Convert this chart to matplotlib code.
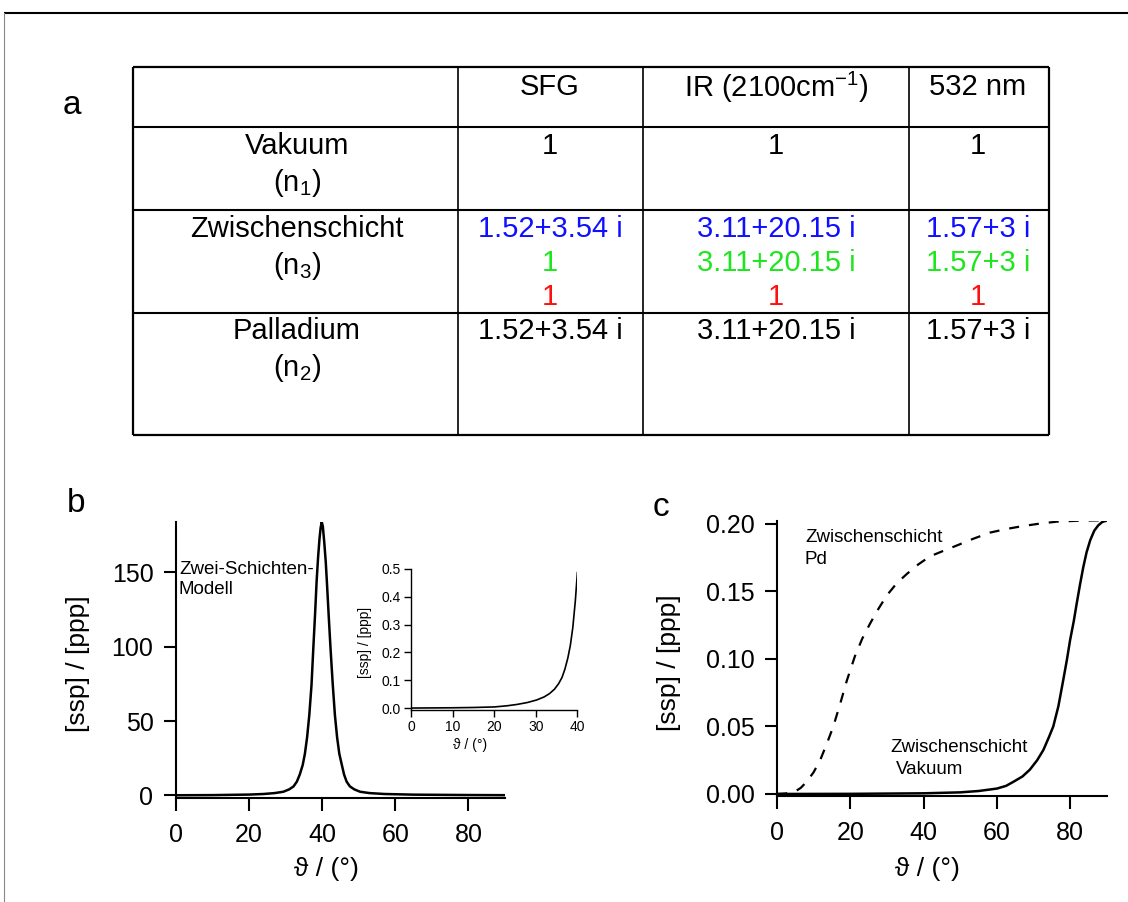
import matplotlib
matplotlib.use("Agg")
import matplotlib.pyplot as plt

plt.rcParams['font.family'] = ['Liberation Sans', 'DejaVu Sans']
plt.rcParams['mathtext.fontset'] = 'custom'
plt.rcParams['mathtext.rm'] = 'Liberation Sans'
plt.rcParams['mathtext.it'] = 'Liberation Sans:italic'
plt.rcParams['mathtext.bf'] = 'Liberation Sans:bold'

# ---------------- data ----------------
col_headers = ["SFG", "IR (2100cm$^{-1}$)", "532 nm"]
row_names = ["Vakuum", "Zwischenschicht", "Palladium"]
row_symbols = ["(n$_1$)", "(n$_3$)", "(n$_2$)"]
vakuum_values = ["1", "1", "1"]
zw_blue_values = ["1.52+3.54 i", "3.11+20.15 i", "1.57+3 i"]
zw_green_values = ["1", "3.11+20.15 i", "1.57+3 i"]
zw_red_values = ["1", "1", "1"]
palladium_values = ["1.52+3.54 i", "3.11+20.15 i", "1.57+3 i"]

# panel b: main curve (two-layer model)
b_theta = [0, 10, 20, 24, 27, 29.4, 31, 32.2, 33.1, 33.9, 34.7, 35.3, 35.9, 36.5,
           37.1, 37.6, 38.1, 38.5, 38.9, 39.3, 39.6, 39.9, 40.2, 40.6, 41.0, 41.3,
           41.8, 42.3, 42.9, 43.5, 44.1, 44.7, 45.4, 46.0, 46.7, 47.6, 48.8, 50.4,
           53, 57, 65, 80, 90]
b_ratio = [0.05, 0.15, 0.5, 0.9, 1.5, 2.4, 4.0, 6.0, 9.2, 14, 20.4, 28, 39, 54,
           74, 99, 123, 144, 160, 173, 180, 184, 181, 170, 157, 144,
           121, 99, 75, 54, 39, 28, 20.4, 14, 9.2, 6.0, 4.0, 2.4,
           1.5, 0.9, 0.45, 0.2, 0.1]
b_xticks = [0, 20, 40, 60, 80]
b_yticks = [0, 50, 100, 150]

# panel b inset
inset_theta = [0, 10, 15, 20, 23, 25.5, 28, 30.2, 32, 33.3, 34.5, 35.5, 36.3,
               37.0, 37.7, 38.3, 38.9, 39.5, 40.0]
inset_ratio = [0.0, 0.001, 0.002, 0.004, 0.008, 0.013, 0.020, 0.029, 0.040, 0.052,
               0.068, 0.088, 0.110, 0.140, 0.180, 0.225, 0.29, 0.385, 0.487]
inset_xticks = [0, 10, 20, 30, 40]
inset_yticks = [0.0, 0.1, 0.2, 0.3, 0.4, 0.5]

# panel c
pd_theta = [0, 2, 3.5, 4.8, 6.4, 8.0, 9.9, 11.7, 13.5, 15.3, 17.2, 19.0, 21.2,
            23.2, 25.3, 27.6, 29.9, 32.6, 35.4, 38.5, 41.7, 45.3, 49.0, 53.5,
            58.1, 62.6, 67.2, 71.8, 76.3, 83, 90]
pd_ratio = [0.0, 0.0003, 0.0009, 0.0017, 0.0045, 0.009, 0.016, 0.025, 0.037,
            0.050, 0.067, 0.084, 0.102, 0.115, 0.126, 0.137, 0.147, 0.156,
            0.163, 0.170, 0.176, 0.180, 0.184, 0.189, 0.1936, 0.1963, 0.1985,
            0.2003, 0.2017, 0.2025, 0.2027]
vac_theta = [0, 20, 40, 50, 55, 60, 62.5, 64.5, 67, 69, 71, 72.7, 74.2, 75.4,
             76.8, 78.1, 79.1, 80.0, 81.0, 81.8, 82.7, 83.6, 84.5, 85.5, 86.6,
             87.7, 88.8, 90]
vac_ratio = [0.0, 0.0001, 0.0005, 0.0012, 0.0022, 0.004, 0.006, 0.009, 0.013,
             0.018, 0.025, 0.0326, 0.042, 0.050, 0.065, 0.084, 0.099, 0.114,
             0.128, 0.141, 0.155, 0.168, 0.179, 0.188, 0.195, 0.199, 0.2015,
             0.2025]
c_xticks = [0, 20, 40, 60, 80]
c_yticks = [0.00, 0.05, 0.10, 0.15, 0.20]

# ---------------- figure ----------------
W, H = 1128, 902
fig = plt.figure(figsize=(W / 100, H / 100), dpi=100)
bg = fig.add_axes([0, 0, 1, 1], zorder=0)
bg.set_xlim(0, W)
bg.set_ylim(H, 0)
bg.axis('off')

# outer frame (top and left only)
bg.plot([4, W], [13, 13], color='black', lw=1.5, solid_capstyle='butt')
bg.plot([4, 4], [13, H], color='#888888', lw=0.8)

# ---------------- table (panel a) ----------------
tab_x = [133, 458, 643, 909, 1049]
tab_y = [67, 127, 210, 313, 435]
bg.hlines(tab_y[1:-1], tab_x[0], tab_x[-1], color='black', lw=1.5)
bg.vlines(tab_x[1:-1], tab_y[0], tab_y[-1], color='black', lw=1.2)
bg.hlines([tab_y[0], tab_y[-1]], tab_x[0], tab_x[-1], color='black', lw=1.6)
bg.vlines([tab_x[0], tab_x[-1]], tab_y[0], tab_y[-1], color='black', lw=1.6)

tfs = 21
col_cx = [550, 776, 978]
label_cx = 297
for cx, h in zip(col_cx, col_headers):
    bg.text(cx, 87, h, ha='center', va='center', fontsize=tfs)

name_y = [146, 229, 331]
sym_y = [183, 266, 368]
for n, s, ny, sy in zip(row_names, row_symbols, name_y, sym_y):
    bg.text(label_cx, ny, n, ha='center', va='center', fontsize=tfs)
    bg.text(label_cx, sy, s, ha='center', va='center', fontsize=tfs)

for cx, v in zip(col_cx, vakuum_values):
    bg.text(cx, 146, v, ha='center', va='center', fontsize=tfs)
for cx, v in zip(col_cx, zw_blue_values):
    bg.text(cx, 229, v, ha='center', va='center', fontsize=tfs, color='#1010ff')
for cx, v in zip(col_cx, zw_green_values):
    bg.text(cx, 263, v, ha='center', va='center', fontsize=tfs, color='#1ee61e')
for cx, v in zip(col_cx, zw_red_values):
    bg.text(cx, 297, v, ha='center', va='center', fontsize=tfs, color='#ff1010')
for cx, v in zip(col_cx, palladium_values):
    bg.text(cx, 331, v, ha='center', va='center', fontsize=tfs)

# panel letters
bg.text(72, 106, "a", ha='center', va='center', fontsize=24)
bg.text(76, 503, "b", ha='center', va='center', fontsize=24)
bg.text(661, 507, "c", ha='center', va='center', fontsize=24)


def style_axes(ax, lw, ticklen, labelsize, pad):
    for side in ('top', 'right'):
        ax.spines[side].set_visible(False)
    for side in ('left', 'bottom'):
        ax.spines[side].set_linewidth(lw)
    ax.tick_params(direction='out', length=ticklen, width=lw,
                   labelsize=labelsize, pad=pad)
    ax.patch.set_alpha(0)


# ---------------- panel b ----------------
axb = fig.add_axes([175.7 / W, (H - 798.3) / H, 329.4 / W, 276.4 / H], zorder=2)
axb.plot(b_theta, b_ratio, color='black', lw=1.8, solid_joinstyle='round')
axb.set_xlim(0, 90)
axb.set_ylim(-2, 184)
axb.set_xticks(b_xticks)
axb.set_yticks(b_yticks)
style_axes(axb, 1.5, 9, 18, 7)
axb.tick_params(axis='x', pad=9)

bg.text(78, 664, "[ssp] / [ppp]", rotation=90, ha='center', va='center', fontsize=19)
bg.text(326, 869, "ϑ / (°)", ha='center', va='center', fontsize=19)
bg.text(179, 569, "Zwei-Schichten-", ha='left', va='center', fontsize=13.5)
bg.text(179, 590, "Modell", ha='left', va='center', fontsize=13.5)

# inset
axi = fig.add_axes([411 / W, (H - 710) / H, 166.4 / W, 141 / H], zorder=3)
axi.plot(inset_theta, inset_ratio, color='black', lw=1.2)
axi.set_xlim(0, 40)
axi.set_ylim(-0.007, 0.5)
axi.set_xticks(inset_xticks)
axi.set_yticks(inset_yticks)
axi.set_yticklabels([f"{v:.1f}" for v in inset_yticks])
style_axes(axi, 1.0, 5, 10, 2.5)
bg.text(365, 642, "[ssp] / [ppp]", rotation=90, ha='center', va='center', fontsize=10)
bg.text(470, 745, "ϑ / (°)", ha='center', va='center', fontsize=10)

# ---------------- panel c ----------------
axc = fig.add_axes([777.3 / W, (H - 796) / H, 329.4 / W, 275.4 / H], zorder=2)
axc.plot(pd_theta, pd_ratio, color='black', lw=1.6, linestyle=(0, (4.5, 4.5)))
axc.plot(vac_theta, vac_ratio, color='black', lw=1.8)
axc.set_xlim(0, 90)
axc.set_ylim(-0.0015, 0.2025)
axc.set_xticks(c_xticks)
axc.set_yticks(c_yticks)
axc.set_yticklabels([f"{v:.2f}" for v in c_yticks])
style_axes(axc, 1.5, 9, 18, 7)
axc.tick_params(axis='x', pad=9)

bg.text(669, 663, "[ssp] / [ppp]", rotation=90, ha='center', va='center', fontsize=19)
bg.text(927, 869, "ϑ / (°)", ha='center', va='center', fontsize=19)
bg.text(805, 538, "Zwischenschicht", ha='left', va='center', fontsize=13.5)
bg.text(805, 559, "Pd", ha='left', va='center', fontsize=13.5)
bg.text(890, 747, "Zwischenschicht", ha='left', va='center', fontsize=13.5)
bg.text(896, 769, "Vakuum", ha='left', va='center', fontsize=13.5)

fig.savefig("out.png", dpi=100)
